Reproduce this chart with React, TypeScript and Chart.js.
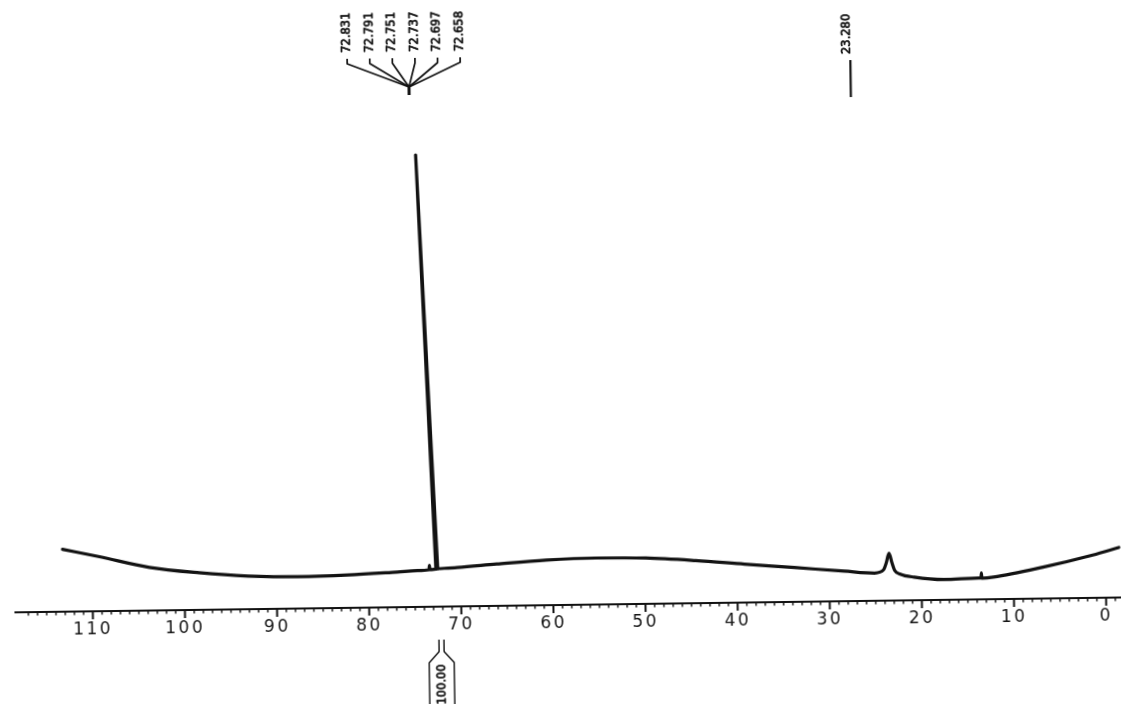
import React, { useEffect, useRef } from "react";
import { Chart, registerables } from "chart.js";

Chart.register(...registerables);

// 13C NMR trace (ppm, relative intensity)
const shiftPpm = [
  113.2, 109.2, 103.8, 98.4, 93.1, 87.7, 82.3, 76.9, 74.7, 73.45, 73.4, 73.35,
  72.7, 74.3, 72.5, 70.4, 66.1, 60.7, 55.3, 49.9, 44.5, 39.2, 33.8, 28.4,
  25.1, 24.1, 23.8, 23.5, 23.2, 22.9, 22.3, 20.8, 17.6, 13.8, 13.55, 13.5,
  13.45, 12.2, 6.8, 1.4, -1.45,
];
const intensity = [
  62.4, 54.5, 43.2, 37.1, 33.2, 31.8, 32.8, 35.2, 36.3, 37, 41.5, 37,
  37.5, 452, 38, 38.8, 41.8, 45.1, 46.5, 45.8, 42.6, 38.4, 34.3, 30.1,
  27.7, 31, 38, 47.5, 38, 30, 26.3, 23.1, 20.3, 21.3, 21.3, 26.5,
  21.2, 22.1, 31.4, 42.8, 50.0,
];

// peak picking labels
const multipletLabels = ["72.831", "72.791", "72.751", "72.737", "72.697", "72.658"];
const singletLabels = ["23.280"];
const integralLabels = ["100.00"];

// axis
const axisMin = -2.2;
const axisMax = 118.4;
const majorStep = 10;

const INK = "#121212";

export default function App() {
  const canvasRef = useRef<HTMLCanvasElement | null>(null);

  useEffect(() => {
    const canvas = canvasRef.current;
    if (!canvas) return;

    const points = shiftPpm.map((p, i) => ({ x: p, y: intensity[i] }));
    let apex = 0;
    intensity.forEach((v, i) => {
      if (v > intensity[apex]) apex = i;
    });
    const leftPart = points.slice(0, apex);
    const peakPart = points.slice(apex - 1, apex + 2);
    const rightPart = points.slice(apex + 1);

    const multipletPpm =
      multipletLabels.reduce((s, t) => s + parseFloat(t), 0) / multipletLabels.length;
    const singletPpm = parseFloat(singletLabels[0]);

    const spacingPlugin = {
      id: "spacing",
      beforeDraw(chart: any) {
        chart.ctx.letterSpacing = "2.5px";
      },
    };

    const annotPlugin = {
      id: "annot",
      afterDraw(chart: any) {
        const ctx = chart.ctx as CanvasRenderingContext2D;
        const xs = chart.scales.x;
        const axisY = chart.chartArea.bottom;
        ctx.save();
        (ctx as any).letterSpacing = "0px";
        ctx.strokeStyle = INK;
        ctx.fillStyle = INK;
        ctx.lineCap = "butt";

        // tick marks
        xs.ticks.forEach((t: any) => {
          const v = t.value;
          if (!Number.isInteger(v)) return;
          const px = xs.getPixelForValue(v);
          const major = v % majorStep === 0;
          ctx.lineWidth = major ? 2 : 1.4;
          ctx.beginPath();
          ctx.moveTo(px, axisY);
          ctx.lineTo(px, axisY + (major ? 8 : 3.5));
          ctx.stroke();
        });

        ctx.font = '11.5px "DejaVu Sans"';
        ctx.textAlign = "left";
        ctx.textBaseline = "middle";
        ctx.lineJoin = "round";

        const vText = (s: string, cx: number, bottom: number) => {
          ctx.save();
          ctx.translate(cx, bottom);
          ctx.rotate(-Math.PI / 2);
          ctx.lineWidth = 0.7;
          ctx.strokeText(s, 0, 0);
          ctx.fillText(s, 0, 0);
          ctx.restore();
        };

        // multiplet labels
        const conv = xs.getPixelForValue(multipletPpm) - 20;
        const colCenter = conv - 5;
        const gap = 22.6;
        multipletLabels.forEach((t, i) => {
          const cx = colCenter + (i - (multipletLabels.length - 1) / 2) * gap;
          vText(t, cx, 50);
          ctx.lineWidth = 1.7;
          ctx.beginPath();
          ctx.moveTo(cx, 56);
          ctx.lineTo(cx, 61);
          ctx.lineTo(conv, 85);
          ctx.stroke();
        });
        ctx.lineWidth = 3;
        ctx.beginPath();
        ctx.moveTo(conv, 84);
        ctx.lineTo(conv, 93);
        ctx.stroke();

        // singlet label
        const sp = xs.getPixelForValue(singletPpm);
        vText(singletLabels[0], sp - 37.6, 58);
        ctx.lineWidth = 2.2;
        ctx.beginPath();
        ctx.moveTo(sp - 34, 64);
        ctx.lineTo(sp - 34, 101);
        ctx.stroke();

        // integral
        const ic = xs.getPixelForValue(multipletPpm) + 5;
        ctx.lineWidth = 1.4;
        [-1, 1].forEach((sgn) => {
          ctx.beginPath();
          ctx.moveTo(ic + sgn * 2.5, 638);
          ctx.lineTo(ic + sgn * 2.5, 650);
          ctx.lineTo(ic + sgn * 12.5, 661);
          ctx.lineTo(ic + sgn * 12.5, 712);
          ctx.stroke();
        });
        vText(integralLabels[0], ic, 703);

        ctx.restore();
      },
    };

    const lineStyle = {
      showLine: true,
      borderColor: INK,
      borderWidth: 3.2,
      pointRadius: 0,
      pointHoverRadius: 0,
      fill: false,
      borderJoinStyle: "round",
      borderCapStyle: "round",
    };

    const chart = new Chart(canvas, {
      type: "scatter",
      data: {
        datasets: [
          { ...lineStyle, data: leftPart, cubicInterpolationMode: "monotone" },
          { ...lineStyle, data: peakPart, tension: 0 },
          { ...lineStyle, data: rightPart, cubicInterpolationMode: "monotone" },
        ],
      },
      options: {
        animation: false,
        responsive: false,
        maintainAspectRatio: false,
        devicePixelRatio: 1,
        events: [],
        layout: { padding: { left: 12, right: 0, top: 0, bottom: 0 } },
        plugins: {
          legend: { display: false },
          tooltip: { enabled: false },
          title: { display: false },
        },
        scales: {
          x: {
            type: "linear",
            reverse: true,
            min: axisMin,
            max: axisMax,
            position: "bottom",
            grid: { display: false, drawTicks: false },
            border: { display: true, color: INK, width: 2 },
            afterFit: (scale: any) => {
              scale.height = 99;
            },
            ticks: {
              stepSize: 1,
              autoSkip: false,
              maxRotation: 0,
              minRotation: 0,
              padding: 8,
              color: "#161616",
              font: { family: '"DejaVu Sans"', size: 17 },
              callback: (v: any) => {
                const n = Number(v);
                return Number.isInteger(n) && n % majorStep === 0 && n >= 0 ? String(n) : "";
              },
            },
          },
          y: {
            display: false,
            min: 0,
            max: 605,
          },
        },
      },
      plugins: [spacingPlugin, annotPlugin],
    } as any);

    return () => {
      chart.destroy();
    };
  }, []);

  return (
    <div
      style={{
        position: "fixed",
        left: 0,
        top: 0,
        width: 1121,
        height: 704,
        overflow: "hidden",
        background: "#fff",
      }}
    >
      <div
        style={{
          width: 1131,
          height: 704,
          transform: "rotate(-0.77deg)",
          transformOrigin: "560px 352px",
        }}
      >
        <canvas ref={canvasRef} width={1131} height={704} style={{ display: "block" }} />
      </div>
    </div>
  );
}
